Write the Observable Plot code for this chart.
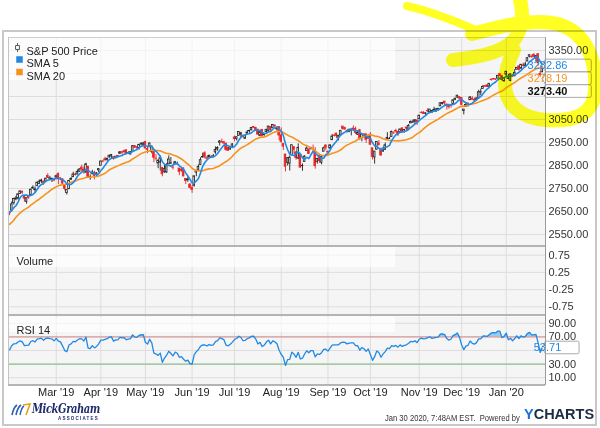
<!DOCTYPE html>
<html>
<head>
<meta charset="utf-8">
<script src="https://cdn.jsdelivr.net/npm/d3@7"></script>
<script src="https://cdn.jsdelivr.net/npm/@observablehq/plot@0.6"></script>
<style>
html,body{margin:0;padding:0;background:#fff;}
#wrap{position:relative;width:600px;height:428px;overflow:hidden;font-family:"Liberation Sans",Arial,sans-serif;color:#333;}
#wrap > *{position:absolute;}
.outer{left:2px;top:30px;width:595px;height:396px;border:2px solid #c8c8c8;box-sizing:border-box;}
#stamp{left:385px;top:413px;font-family:"Liberation Sans",Arial,sans-serif;font-size:9.5px;line-height:9.5px;color:#333;white-space:nowrap;transform:scaleX(0.8);transform-origin:0 0;}
#ych{left:524px;top:407px;font-family:"Liberation Sans",Arial,sans-serif;font-weight:bold;font-size:14.5px;line-height:15px;letter-spacing:0px;white-space:nowrap;}
#logo{left:32px;top:400px;font-family:"DejaVu Serif",serif;font-style:italic;font-weight:bold;font-size:13.5px;letter-spacing:-0.6px;color:#1f2d6e;white-space:nowrap;transform:scaleX(0.74);transform-origin:0 0;}
#assoc{left:58px;top:416px;font-size:4.5px;letter-spacing:1.2px;color:#1f2d6e;font-weight:bold;}
</style>
</head>
<body>
<div id="wrap">
  <div class="outer"></div>
</div>
<script>
// ---------- DATA ----------
const monthLabels = ["Jan '19","Feb '19","Mar '19","Apr '19","May '19","Jun '19","Jul '19","Aug '19","Sep '19","Oct '19","Nov '19","Dec '19","Jan '20"];

// closes before the visible window (Dec 3 2018 - Jan 28 2019), used only to warm up SMA / RSI
const warmupCloses = [2790.37,2700.06,2695.95,2633.08,2637.72,2636.78,2651.07,2650.54,2599.95,2545.94,2546.16,2506.96,2467.42,2416.62,2351.10,2467.70,2488.83,2485.74,2506.85,
  2510.03,2447.89,2531.94,2549.69,2574.41,2584.96,2596.64,2596.26,2582.61,2610.30,2616.10,2635.96,2670.71,2632.90,2638.70,2642.33,2664.76,2643.85];

// daily S&P 500 bars, one sub-array per month (Jan 29 2019 - Jan 29 2020)
const closes = [
  [2640.00,2681.05,2704.10],
  [2706.53,2724.87,2737.70,2731.61,2706.05,2707.88,2709.80,2744.73,2753.03,2745.73,2775.60,2779.76,2784.70,2774.88,2792.67,2796.11,2793.90,2792.38,2784.49],
  [2803.69,2792.81,2789.65,2771.45,2748.93,2743.07,2783.30,2791.52,2810.92,2808.48,2822.48,2832.94,2832.57,2824.23,2854.88,2800.71,2798.36,2818.46,2805.37,2815.44,2834.40],
  [2867.19,2867.24,2873.40,2879.39,2892.74,2895.77,2878.20,2888.21,2888.32,2907.41,2905.58,2907.06,2900.45,2905.03,2907.97,2933.68,2927.25,2926.17,2939.88,2943.03,2945.83],
  [2923.73,2917.52,2945.64,2932.47,2884.05,2879.42,2870.72,2881.40,2811.87,2834.41,2850.96,2876.32,2859.53,2840.23,2864.36,2856.27,2822.24,2826.06,2802.39,2783.02,2788.86,2752.06],
  [2744.45,2803.27,2826.15,2843.49,2873.34,2886.73,2885.72,2879.84,2891.64,2886.98,2889.67,2917.75,2926.46,2954.18,2950.46,2945.35,2917.38,2913.78,2924.92,2941.76],
  [2964.33,2973.01,2995.82,2990.41,2975.95,2979.63,2993.07,2999.91,3013.77,3014.30,3004.04,2984.42,2995.11,2976.61,2985.03,3005.47,3019.56,3003.67,3025.86,3020.97,3013.18,2980.38],
  [2953.56,2932.05,2844.74,2881.77,2883.98,2938.09,2918.65,2882.70,2926.32,2840.60,2847.60,2888.68,2923.65,2900.51,2924.43,2922.95,2847.11,2878.38,2869.16,2887.94,2924.58,2926.46],
  [2906.27,2937.78,2976.00,2978.71,2978.43,2979.39,3000.93,3009.57,3007.39,2997.96,3005.70,3006.73,3006.79,2992.07,2991.78,2966.60,2984.87,2977.62,2961.79,2976.74],
  [2940.25,2887.61,2910.63,2952.01,2938.79,2893.06,2919.40,2938.13,2970.27,2966.15,2995.68,2989.69,2997.95,2986.20,3006.72,2995.99,3004.52,3010.29,3022.55,3039.42,3036.89,3046.77,3037.56],
  [3066.91,3078.27,3074.62,3076.78,3085.18,3093.08,3087.01,3091.84,3094.04,3096.63,3120.46,3122.03,3120.18,3108.46,3103.54,3110.29,3133.64,3140.52,3153.63,3140.98],
  [3113.87,3093.20,3112.76,3117.43,3145.91,3135.96,3132.52,3141.63,3168.57,3168.80,3191.45,3192.52,3191.14,3205.37,3221.22,3224.01,3223.38,3239.91,3240.02,3221.29,3230.78],
  [3257.85,3234.85,3246.28,3237.18,3253.05,3274.70,3265.35,3288.13,3283.15,3289.29,3316.81,3329.62,3320.79,3321.75,3325.54,3295.47,3243.63,3276.24,3273.40]
];
const opens = [
  [2644,2654,2686],
  [2703,2706,2726,2736,2718,2692,2713,2722,2750,2743,2761,2770,2781,2780,2780,2805,2793,2787,2789],
  [2798,2814,2794,2790,2766,2731,2747,2787,2799,2811,2811,2823,2841,2832,2819,2845,2797,2812,2819,2809,2829],
  [2849,2868,2877,2874,2885,2889,2886,2881,2892,2901,2908,2912,2916,2904,2898,2910,2935,2929,2925,2941,2937],
  [2952,2922,2929,2909,2914,2880,2859,2863,2840,2820,2820,2855,2858,2841,2855,2856,2837,2833,2831,2791,2786,2767],
  [2752,2762,2819,2828,2852,2885,2903,2882,2886,2887,2889,2907,2920,2949,2952,2951,2945,2926,2919,2932],
  [2972,2965,2979,2984,2980,2966,2989,2999,3003,3018,3013,3006,2979,3004,2982,2995,2999,3018,3013,3024,3007,3017],
  [2981,2943,2898,2862,2858,2896,2930,2907,2880,2895,2847,2865,2913,2919,2923,2923,2911,2866,2893,2862,2910,2937],
  [2909,2924,2960,2980,2989,2971,2982,3019,3013,2997,2996,3001,3011,3009,2984,3003,2969,2985,2985,2967],
  [2984,2925,2885,2919,2945,2920,2911,2918,2963,2966,2974,2990,3000,2996,2996,3011,2995,3015,3004,3033,3036,3039,3046],
  [3051,3079,3080,3075,3087,3082,3081,3089,3084,3091,3107,3118,3128,3114,3108,3112,3117,3135,3145,3147],
  [3144,3087,3104,3120,3134,3141,3136,3135,3141,3167,3183,3195,3198,3192,3223,3226,3225,3228,3247,3240,3216],
  [3245,3226,3218,3241,3238,3267,3281,3271,3285,3282,3302,3323,3321,3330,3316,3334,3248,3255,3289]
];
const highs = [
  [2650,2691,2708],
  [2716,2725,2738,2739,2718,2708,2719,2748,2762,2757,2776,2787,2790,2781,2794,2814,2803,2795,2791],
  [2808,2817,2796,2791,2768,2744,2784,2798,2821,2816,2831,2836,2852,2844,2860,2846,2809,2829,2825,2819,2836],
  [2869,2872,2886,2882,2893,2896,2886,2889,2893,2911,2909,2917,2918,2909,2909,2937,2937,2933,2940,2950,2949],
  [2955,2932,2948,2934,2914,2898,2875,2892,2841,2853,2858,2892,2885,2853,2868,2865,2837,2841,2841,2792,2799,2772],
  [2763,2804,2827,2853,2884,2904,2910,2888,2896,2894,2898,2931,2932,2959,2965,2955,2947,2932,2930,2944],
  [2978,2974,2996,2994,2981,2981,3002,3003,3014,3018,3016,3006,2999,3007,2990,3006,3020,3018,3028,3025,3018,3018],
  [3014,2946,2898,2885,2892,2939,2931,2910,2944,2895,2857,2893,2931,2923,2929,2939,2928,2879,2899,2890,2930,2940],
  [2914,2939,2985,2985,2990,2979,3001,3021,3017,3003,3006,3008,3022,3017,2999,3007,2989,2987,2988,2983],
  [2993,2925,2911,2953,2959,2926,2930,2948,2993,2972,3000,2997,3008,3000,3007,3015,3005,3016,3028,3044,3047,3050,3046],
  [3067,3084,3084,3079,3097,3094,3088,3103,3098,3098,3121,3124,3128,3118,3111,3112,3134,3142,3155,3150],
  [3145,3094,3120,3120,3150,3149,3143,3143,3177,3182,3198,3198,3199,3206,3226,3228,3226,3240,3248,3240,3231],
  [3258,3246,3247,3245,3267,3275,3283,3289,3295,3299,3317,3330,3330,3337,3327,3334,3259,3285,3293]
];
const lows = [
  [2632,2648,2678],
  [2697,2700,2725,2725,2691,2682,2703,2722,2748,2731,2757,2767,2772,2764,2775,2794,2789,2776,2780],
  [2789,2767,2784,2768,2739,2722,2747,2786,2799,2804,2810,2821,2823,2812,2817,2800,2786,2812,2788,2798,2819],
  [2849,2862,2866,2868,2883,2880,2873,2880,2882,2898,2896,2905,2896,2898,2896,2910,2927,2913,2917,2940,2932],
  [2923,2901,2929,2901,2862,2871,2836,2826,2801,2817,2816,2855,2854,2831,2855,2851,2806,2821,2801,2767,2777,2751],
  [2729,2756,2801,2823,2852,2883,2878,2874,2883,2880,2886,2899,2912,2935,2948,2944,2912,2913,2918,2929],
  [2953,2957,2979,2967,2970,2964,2984,2990,3001,3011,3001,2984,2975,2976,2977,2990,2998,2993,3013,3015,3000,2959],
  [2946,2915,2822,2848,2826,2896,2899,2873,2876,2840,2825,2865,2913,2899,2917,2904,2834,2856,2860,2853,2910,2914],
  [2891,2921,2960,2974,2967,2957,2978,3003,3002,2991,2993,2979,3004,2985,2982,2958,2953,2968,2946,2967],
  [2938,2874,2856,2917,2935,2892,2907,2917,2963,2963,2974,2986,2991,2976,2996,2995,2991,2997,3001,3032,3034,3026,3024],
  [3051,3076,3072,3065,3080,3075,3076,3084,3083,3086,3107,3113,3111,3091,3095,3099,3117,3132,3143,3139],
  [3110,3070,3104,3103,3134,3135,3126,3134,3139,3154,3183,3191,3190,3192,3217,3222,3220,3227,3235,3217,3213],
  [3236,3223,3214,3233,3236,3264,3260,3268,3278,3282,3302,3318,3316,3321,3302,3281,3234,3255,3271]
];

const priceTicks = [2550, 2650, 2750, 2850, 2950, 3050, 3150, 3250, 3350];
const volumeTicks = [-0.75, -0.25, 0.25, 0.75];
const rsiTicks = [10, 30, 50, 70, 90];

// ---------- DERIVED ----------
const C = closes.flat(), O = opens.flat(), H = highs.flat(), L = lows.flat();
const N = C.length;
const monthStart = [];
closes.reduce((acc, m) => { monthStart.push(acc); return acc + m.length; }, 0);
const tickIdx = monthStart.slice(2);
const tickLab = monthLabels.slice(2);

const all = warmupCloses.concat(C);
const W = warmupCloses.length;
const sma = k => C.map((_, i) => d3.mean(all.slice(i + W - k + 1, i + W + 1)));
// Wilder's RSI
function rsiWilder(n) {
  const out = new Array(all.length).fill(NaN);
  let g = 0, l = 0;
  for (let j = 1; j <= n; j++) { const d = all[j] - all[j - 1]; if (d > 0) g += d; else l -= d; }
  g /= n; l /= n; out[n] = 100 - 100 / (1 + g / l);
  for (let j = n + 1; j < all.length; j++) {
    const d = all[j] - all[j - 1];
    g = (g * (n - 1) + Math.max(d, 0)) / n;
    l = (l * (n - 1) + Math.max(-d, 0)) / n;
    out[j] = 100 - 100 / (1 + g / l);
  }
  return out.slice(W);
}
const s5 = sma(5), s20 = sma(20), rsi = rsiWilder(14);
const days = C.map((c, i) => ({i, o: O[i], h: H[i], l: L[i], c, up: c >= O[i], sma5: s5[i], sma20: s20[i], rsi: rsi[i]}));

// ---------- STYLE ----------
const BLUE = "#2289e3", ORANGE = "#f7921e", RED = "#e8262b", INK = "#1e1e1e", GRID = "#dddddd", BG = "#f5f5f5";
const FONT = '"Liberation Sans", Arial, sans-serif';
const baseStyle = {fontFamily: FONT, fontSize: "11px", color: "#333", background: "transparent", overflow: "visible"};
const common = {width: 600, marginLeft: 8, marginRight: 55, x: {domain: [-0.5, N - 0.5], axis: null}, color: {type: "identity"}, style: baseStyle};
const wrap = document.getElementById("wrap");
function place(el, top) { el.style.position = "absolute"; el.style.left = "0px"; el.style.top = top + "px"; wrap.appendChild(el); return el; }
function addDiv(id, css, html) { const d = document.createElement("div"); if (id) d.id = id; Object.assign(d.style, css); if (html) d.innerHTML = html; wrap.appendChild(d); return d; }
// translucent white legend strip, drawn over the grid but under the data / legend text
function legendStrip(plot, beforeSel, height) {
  const [x0] = plot.scale("x").range;
  const y0 = plot.scale("y").range[1];
  d3.select(plot).insert("rect", beforeSel).attr("x", x0 + 1).attr("y", y0 + 1).attr("width", 386).attr("height", height)
    .attr("fill", "#fff").attr("fill-opacity", 0.65);
}

const candleSymbol = {draw(ctx, size) { const r = Math.sqrt(size) / 2; ctx.moveTo(0, -2.3 * r); ctx.lineTo(0, -r); ctx.rect(-r, -r, 2 * r, 2 * r); ctx.moveTo(0, r); ctx.lineTo(0, 2.3 * r); }};
const axisOpts = {anchor: "right", tickSize: 0, tickPadding: 3, tickFormat: d => d.toFixed(2), fontSize: 11, fill: "#333", label: null};

// ---------- PRICE PANEL ----------
const price = Plot.plot({
  ...common, height: 209, marginTop: 0, marginBottom: 0,
  y: {domain: [2498, 3406.5], axis: null},
  marks: [
    Plot.frame({fill: BG, stroke: null}),
    Plot.gridX(tickIdx, {stroke: GRID, strokeOpacity: 1}),
    Plot.gridY(priceTicks, {stroke: GRID, strokeOpacity: 1}),
    Plot.ruleX(days, {x: "i", y1: "l", y2: "h", stroke: d => d.up ? INK : RED, strokeWidth: 0.9}),
    Plot.rect(days, {x1: d => d.i - 0.38, x2: d => d.i + 0.38, y1: "o", y2: "c", fill: d => d.up ? "#ffffff" : RED, stroke: d => d.up ? INK : RED, strokeWidth: 0.8}),
    Plot.lineY(days, {x: "i", y: "sma20", stroke: ORANGE, strokeWidth: 1.6}),
    Plot.lineY(days, {x: "i", y: "sma5", stroke: BLUE, strokeWidth: 1.6}),
    Plot.axisY(priceTicks, axisOpts),
    Plot.dot([0], {frameAnchor: "top-left", dx: 9, dy: 10, symbol: candleSymbol, r: 2.2, stroke: "#444", fill: "white", strokeWidth: 0.9}),
    Plot.dot([0], {frameAnchor: "top-left", dx: 11, dy: 22, symbol: "square", r: 3.7, fill: BLUE, stroke: null}),
    Plot.dot([0], {frameAnchor: "top-left", dx: 11, dy: 34.5, symbol: "square", r: 3.7, fill: ORANGE, stroke: null}),
    Plot.text(["S&P 500 Price"], {frameAnchor: "top-left", dx: 18, dy: 10, text: d => d, textAnchor: "start", fontSize: 11, fill: "#222"}),
    Plot.text(["SMA 5"], {frameAnchor: "top-left", dx: 18, dy: 22, text: d => d, textAnchor: "start", fontSize: 11, fill: "#222"}),
    Plot.text(["SMA 20"], {frameAnchor: "top-left", dx: 18, dy: 34.5, text: d => d, textAnchor: "start", fontSize: 11, fill: "#222"})
  ]
});
place(price, 37);
legendStrip(price, 'g[aria-label="rule"]', 42);

// ---------- VOLUME PANEL ----------
const volume = Plot.plot({
  ...common, height: 69, marginTop: 0, marginBottom: 0,
  y: {domain: [-1, 1], axis: null},
  marks: [
    Plot.frame({fill: BG, stroke: null}),
    Plot.gridX(tickIdx, {stroke: GRID, strokeOpacity: 1}),
    Plot.gridY(volumeTicks, {stroke: GRID, strokeOpacity: 1}),
    Plot.axisY(volumeTicks, axisOpts),
    Plot.text(["Volume"], {frameAnchor: "top-left", dx: 8, dy: 11, text: d => d, textAnchor: "start", fontSize: 11, fill: "#222"})
  ]
});
place(volume, 246);
legendStrip(volume, 'g[aria-label="text"]', 20);

// ---------- RSI PANEL ----------
const rsiPlot = Plot.plot({
  ...common, height: 90, marginTop: 1, marginBottom: 21,
  y: {domain: [0, 100], axis: null},
  marks: [
    Plot.frame({fill: BG, stroke: null}),
    Plot.gridX(tickIdx, {stroke: GRID, strokeOpacity: 1}),
    Plot.gridY(rsiTicks, {stroke: GRID, strokeOpacity: 1}),
    Plot.areaY(days, {x: "i", y1: 70, y2: d => Math.max(70, d.rsi), fill: "#8cc2f0", fillOpacity: 0.85}),
    Plot.ruleY([70], {stroke: "#d79a9a", strokeWidth: 1.2}),
    Plot.ruleY([30], {stroke: "#8fc18f", strokeWidth: 1.2}),
    Plot.lineY(days, {x: "i", y: "rsi", stroke: BLUE, strokeWidth: 1.3}),
    Plot.axisY(rsiTicks, axisOpts),
    Plot.axisX(tickIdx, {anchor: "bottom", tickSize: 0, tickPadding: 4, tickFormat: d => tickLab[tickIdx.indexOf(d)], fontSize: 11, fill: "#222", label: null}),
    Plot.text(["RSI 14"], {frameAnchor: "top-left", dx: 8, dy: 10, text: d => d, textAnchor: "start", fontSize: 11, fill: "#222"})
  ]
});
place(rsiPlot, 315);
legendStrip(rsiPlot, 'g[aria-label="area"]', 15);

// ---------- borders / separators ----------
addDiv("", {left: "8px", top: "37px", width: "537px", height: "1px", background: "#cfcfcf"});
addDiv("", {left: "8px", top: "37px", width: "1px", height: "348px", background: "#c4c4c4"});
addDiv("", {left: "545px", top: "37px", width: "1px", height: "348px", background: "#9a9a9a"});
addDiv("", {left: "8px", width: "537px", height: "2px", background: "#b4b4b4", top: "245px"});
addDiv("", {left: "8px", width: "537px", height: "2px", background: "#b4b4b4", top: "314px"});
addDiv("", {left: "8px", width: "537px", height: "1.5px", background: "#b4b4b4", top: "384px"});

// ---------- value flags (positioned through each plot's scales) ----------
function addFlags(plot, items, gap) {
  const ys = plot.scale("y"), xs = plot.scale("x");
  const x0 = xs.apply(N - 0.5);
  const list = items.map(d => ({...d, y: ys.apply(d.value)})).sort((a, b) => a.y - b.y);
  for (let k = 1; k < list.length; k++) list[k].y = Math.max(list[k].y, list[k - 1].y + gap);
  const g = d3.select(plot).append("g").attr("font-family", FONT).attr("font-size", 11);
  const boxes = [];
  for (const d of list) {
    const p = g.append("path");
    const t = g.append("text").attr("x", x0 + 2.5).attr("y", d.y).attr("dy", "0.36em").attr("fill", d.color)
      .attr("font-weight", d.bold ? "bold" : null).text(d.text);
    const w = t.node().getComputedTextLength();
    const h = 6.3;
    p.attr("d", `M${x0 - 3},${d.y} L${x0 + 0.5},${d.y - h} H${x0 + w + 5} Q${x0 + w + 6.5},${d.y - h} ${x0 + w + 6.5},${d.y - h + 1.5} V${d.y + h - 1.5} Q${x0 + w + 6.5},${d.y + h} ${x0 + w + 5},${d.y + h} H${x0 + 0.5} Z`)
      .attr("fill", "#fff").attr("stroke", "#a9a9a9").attr("stroke-width", 1);
    boxes.push(p.node().getBoundingClientRect());
  }
  // hide axis labels that sit under a flag, as the original does
  d3.select(plot).selectAll('g[aria-label="y-axis tick label"] text').each(function () {
    const r = this.getBoundingClientRect(), cy = (r.top + r.bottom) / 2;
    if (boxes.some(b => cy > b.top - 3 && cy < b.bottom + 3)) this.setAttribute("display", "none");
  });
}
const last = days[N - 1];
addFlags(price, [
  {value: last.sma5, text: last.sma5.toFixed(2), color: BLUE},
  {value: last.sma20, text: last.sma20.toFixed(2), color: ORANGE},
  {value: last.c, text: last.c.toFixed(2), color: "#111", bold: true}
], 12.8);
addFlags(rsiPlot, [{value: last.rsi, text: last.rsi.toFixed(2), color: BLUE}], 12);

// ---------- footer ----------
addDiv("", {left: "10px", top: "402px", width: "22px", height: "16px"},
  '<svg width="22" height="16"><path d="M2,13 C3,8 4,5 7,3" stroke="#2f5fb8" stroke-width="1.6" fill="none"/><path d="M6,13 C7,8 8,5 11,3" stroke="#2f5fb8" stroke-width="1.6" fill="none"/><path d="M10,13 C11,8 12,5 14,4" stroke="#2f5fb8" stroke-width="1.4" fill="none"/><path d="M13,3 L20,2 L16,13" stroke="#e3a21a" stroke-width="1.6" fill="none"/></svg>');
addDiv("logo", {}, "MickGraham");
addDiv("assoc", {}, "ASSOCIATES");
addDiv("stamp", {}, "Jan 30 2020, 7:48AM EST.&nbsp; Powered by");
addDiv("ych", {}, '<span style="color:#1d6fd8">Y</span><span style="color:#1c2a45">CHARTS</span>');

// ---------- yellow highlighter annotation ----------
addDiv("", {left: "0px", top: "0px", width: "600px", height: "428px", mixBlendMode: "multiply", pointerEvents: "none"},
  '<svg width="600" height="428"><g fill="none" stroke="#ffff24" stroke-linecap="round" stroke-linejoin="round">' +
  '<path d="M407,6 C430,11 455,21 478,31" stroke-width="8"/>' +
  '<path d="M453,60 C478,57 502,53 514,40 C522,30 524,14 520,0" stroke-width="14"/>' +
  '<path d="M472,34 C502,26 532,18 558,24 C586,32 597,60 595,90 C594,113 578,122 546,120 C520,118 505,104 505,84 C505,70 509,60 514,50" stroke-width="14"/>' +
  '</g></svg>');
</script>
</body>
</html>
